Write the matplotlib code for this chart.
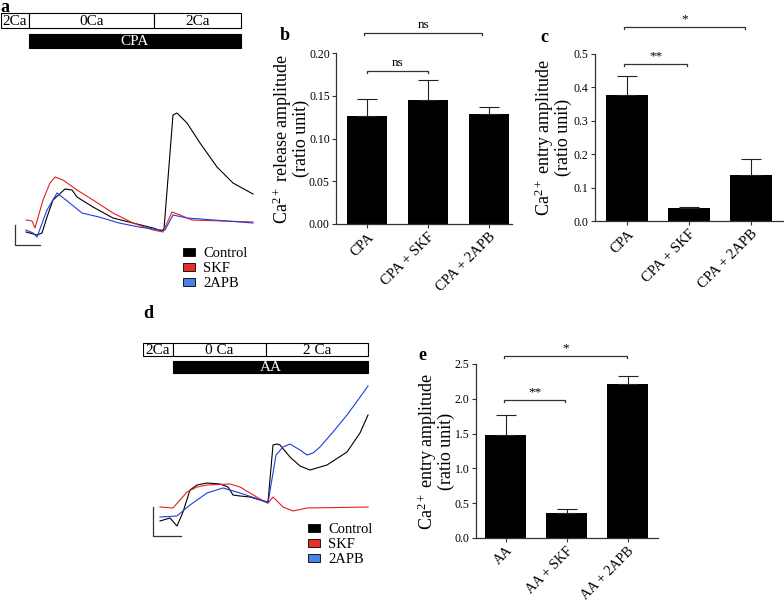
import matplotlib.pyplot as plt
from matplotlib.patches import Patch

plt.rcParams['font.family'] = 'Liberation Serif'
plt.rcParams['mathtext.fontset'] = 'custom'
plt.rcParams['mathtext.rm'] = 'Liberation Serif'
plt.rcParams['mathtext.it'] = 'Liberation Serif:italic'

W, H = 784, 604

# ---------------- panel a : CPA traces (time s, fura-2 ratio)
a_ctrl_t = [100, 144, 164, 184, 208, 256, 284, 304, 368, 448, 528, 608, 644, 652, 688, 704, 744, 796, 864, 928, 1008]
a_ctrl_r = [0.852, 0.840, 0.848, 0.912, 0.980, 1.024, 1.020, 0.992, 0.952, 0.908, 0.888, 0.868, 0.856, 0.864,
            1.320, 1.328, 1.288, 1.208, 1.112, 1.048, 1.004]
a_skf_t = [100, 124, 136, 168, 196, 216, 248, 304, 368, 448, 528, 608, 648, 684, 716, 764, 1008]
a_skf_r = [0.900, 0.896, 0.868, 0.980, 1.048, 1.072, 1.060, 1.020, 0.980, 0.928, 0.888, 0.860, 0.852,
           0.932, 0.920, 0.900, 0.892]
a_apb_t = [100, 128, 144, 184, 224, 260, 324, 392, 472, 552, 636, 656, 688, 744, 1008]
a_apb_r = [0.860, 0.848, 0.832, 0.940, 1.008, 0.980, 0.928, 0.912, 0.888, 0.872, 0.860, 0.860, 0.920, 0.908, 0.888]
a_sol_labels = ["2Ca", "0Ca", "2Ca"]
a_sol_edges = [0, 112, 612, 960]
a_drug = ("CPA", 112, 960)
a_scale_t = [56, 56, 156]
a_scale_r = [0.88, 0.80, 0.80]

# ---------------- panel d : AA traces
d_ctrl_t = [68, 108, 136, 160, 188, 216, 256, 308, 340, 360, 388, 428, 468, 500, 520, 536, 548, 588, 628, 668,
            736, 816, 868, 900]
d_ctrl_r = [0.876, 0.888, 0.856, 0.912, 1.000, 1.020, 1.028, 1.024, 1.012, 0.980, 0.976, 0.972, 0.960, 0.952,
            1.180, 1.184, 1.180, 1.132, 1.096, 1.080, 1.100, 1.152, 1.228, 1.300]
d_skf_t = [68, 120, 148, 176, 216, 256, 348, 388, 428, 468, 500, 520, 560, 600, 656, 900]
d_skf_r = [0.932, 0.928, 0.960, 0.992, 1.012, 1.020, 1.024, 1.012, 0.988, 0.964, 0.948, 0.972, 0.932, 0.916,
           0.928, 0.932]
d_apb_t = [68, 136, 188, 256, 320, 388, 448, 500, 532, 560, 588, 628, 656, 680, 708, 760, 816, 860, 900]
d_apb_r = [0.892, 0.896, 0.940, 0.988, 1.008, 0.988, 0.968, 0.948, 1.140, 1.172, 1.184, 1.160, 1.140, 1.148,
           1.172, 1.232, 1.300, 1.360, 1.416]
d_sol_labels = ["2Ca", "0 Ca", "2 Ca"]
d_sol_edges = [0, 120, 492, 900]
d_drug = ("AA", 120, 900)
d_scale_t = [40, 40, 152]
d_scale_r = [0.932, 0.816, 0.816]

# ---------------- bar panels
b_labels = ["CPA", "CPA + SKF", "CPA + 2APB"]
b_vals = [0.126, 0.145, 0.129]
b_errs = [0.020, 0.023, 0.008]
b_brackets = [(0.0, 1.0, 0.179, "ns"), (-0.05, 1.89, 0.2235, "ns")]

c_labels = ["CPA", "CPA + SKF", "CPA + 2APB"]
c_vals = [0.377, 0.038, 0.138]
c_errs = [0.057, 0.003, 0.047]
c_brackets = [(-0.05, 0.97, 0.470, "**"), (-0.05, 1.90, 0.581, "*")]

e_labels = ["AA", "AA + SKF", "AA + 2APB"]
e_vals = [1.48, 0.36, 2.21]
e_errs = [0.29, 0.05, 0.12]
e_brackets = [(-0.02, 0.97, 1.983, "**"), (-0.02, 1.99, 2.615, "*")]

colors = {"Control": "black", "SKF": "#e8201c", "2APB": "#1f3de0"}
legend_colors = {"Control": "black", "SKF": "#e8302a", "2APB": "#4a80e8"}

fig = plt.figure(figsize=(W / 100, H / 100), dpi=100)


def px_axes(l, t, r, b):
    return fig.add_axes([l / W, 1 - b / H, (r - l) / W, (b - t) / H])


def trace_panel(box, xlim, ylim, traces, scale, proto_box, sol_labels, sol_edges, drug, leg_xy):
    ax = px_axes(*box)
    for name, (t, r) in traces.items():
        ax.plot(t, r, color=colors[name], lw=0.8)
    ax.plot(scale[0], scale[1], color='#333333', lw=0.9)
    ax.set_xlim(*xlim)
    ax.set_ylim(*ylim)
    ax.axis('off')

    pa = px_axes(proto_box[0], proto_box[1], box[2], proto_box[3])
    for i, lab in enumerate(sol_labels):
        left, right = sol_edges[i], sol_edges[i + 1]
        pa.barh(0, right - left, left=left, height=0.75, facecolor='white', edgecolor='black', lw=0.8)
        pa.text((left + right) / 2, 0.03, lab, ha='center', va='center', fontsize=11)
    pa.barh(1, drug[2] - drug[1], left=drug[1], height=0.7, facecolor='black', edgecolor='black', lw=0.8)
    pa.text((drug[1] + drug[2]) / 2, 1.03, drug[0], ha='center', va='center', fontsize=11, color='white')
    pa.set_xlim(*xlim)
    pa.set_ylim(1.5, -0.5)
    pa.axis('off')

    handles = [Patch(facecolor=legend_colors[n], edgecolor='black', lw=0.6, label=n) for n in traces]
    ax.legend(handles=handles, loc='upper left', bbox_to_anchor=(leg_xy[0] / W, 1 - leg_xy[1] / H),
              bbox_transform=fig.transFigure, frameon=False, fontsize=10.5, handlelength=0.8,
              handleheight=0.5, handletextpad=0.6, labelspacing=0.15, borderpad=0, borderaxespad=0)
    return ax


def bar_panel(box, labels, vals, errs, xlim, ylim, yticks, fmt, ylabel, brackets, labelpad, xfs):
    ax = px_axes(*box)
    x = list(range(len(vals)))
    ax.bar(x, vals, width=0.67, color='black')
    ax.errorbar(x, vals, yerr=[[0] * len(vals), errs], fmt='none', ecolor='#222222',
                elinewidth=0.8, capsize=7.5, capthick=0.8)
    ax.set_xlim(*xlim)
    ax.set_ylim(*ylim)
    ax.set_yticks(yticks)
    ax.set_yticklabels([fmt.format(v) for v in yticks], fontsize=8.5)
    ax.set_xticks(x)
    ax.set_xticklabels(labels, rotation=45, ha='right', rotation_mode='anchor', fontsize=xfs)
    ax.tick_params(axis='both', length=3, width=0.8, color='#333333', pad=1.5)
    for s in ['top', 'right']:
        ax.spines[s].set_visible(False)
    for s in ['left', 'bottom']:
        ax.spines[s].set_linewidth(0.9)
        ax.spines[s].set_color('#333333')
    ax.set_ylabel(ylabel, fontsize=13, labelpad=labelpad, linespacing=0.92)
    tick = (ylim[1] - ylim[0]) * 0.012
    for x1, x2, y, txt in brackets:
        ax.plot([x1, x1, x2, x2], [y - tick, y, y, y - tick], color='#333333', lw=0.9, clip_on=False)
        ax.text((x1 + x2) / 2, y + tick, txt, ha='center', va='bottom', fontsize=9.5, clip_on=False)
    return ax


trace_panel((1, 100, 256, 250), (0, 1020), (0.78, 1.38),
            {"Control": (a_ctrl_t, a_ctrl_r), "SKF": (a_skf_t, a_skf_r), "2APB": (a_apb_t, a_apb_r)},
            (a_scale_t, a_scale_r), (1, 10.5, 256, 50.5), a_sol_labels, a_sol_edges, a_drug, (183, 247))

trace_panel((143, 378, 370, 540), (0, 908), (0.8, 1.448),
            {"Control": (d_ctrl_t, d_ctrl_r), "SKF": (d_skf_t, d_skf_r), "2APB": (d_apb_t, d_apb_r)},
            (d_scale_t, d_scale_r), (143, 341, 370, 376), d_sol_labels, d_sol_edges, d_drug, (308, 523))

bar_panel((336, 53, 512, 224), b_labels, b_vals, b_errs, (-0.508, 2.377), (0, 0.2),
          [0, 0.05, 0.10, 0.15, 0.20], "{:.2f}", "Ca$^{2+}$ release amplitude\n(ratio unit)", b_brackets, -1, 10.5)
bar_panel((595, 54, 783, 221), c_labels, c_vals, c_errs, (-0.516, 2.516), (0, 0.5),
          [0, 0.1, 0.2, 0.3, 0.4, 0.5], "{:.1f}", "Ca$^{2+}$ entry amplitude\n(ratio unit)", c_brackets, 1, 10.5)
bar_panel((476, 364, 658, 538), e_labels, e_vals, e_errs, (-0.484, 2.5), (0, 2.5),
          [0, 0.5, 1.0, 1.5, 2.0, 2.5], "{:.1f}", "Ca$^{2+}$ entry amplitude\n(ratio unit)", e_brackets, 0, 10)

for lab, xp, yp in [("a", 5, 7), ("b", 285, 36), ("c", 544, 38), ("d", 148, 313), ("e", 422, 355)]:
    fig.text(xp / W, 1 - yp / H, lab, fontsize=13, fontweight='bold', ha='center', va='center')

fig.savefig("out.png", dpi=100)
